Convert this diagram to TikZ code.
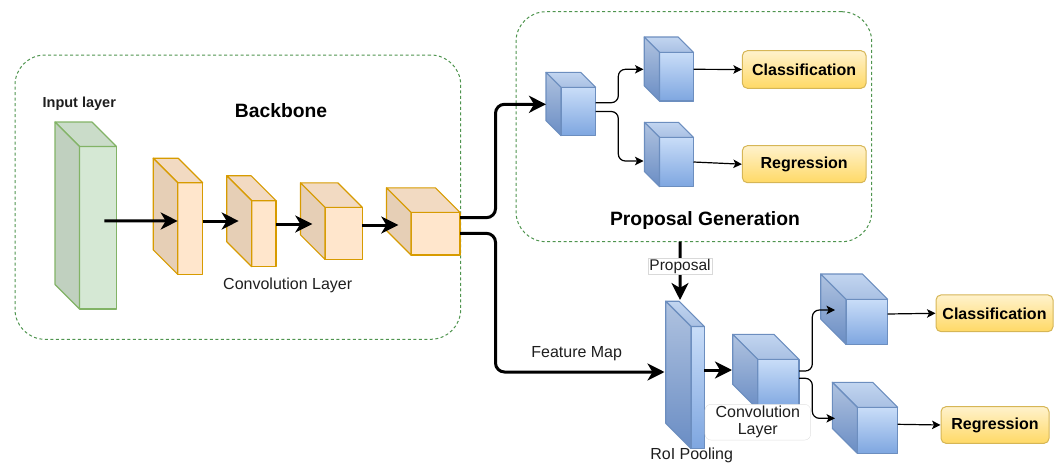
\documentclass[tikz,border=0pt]{standalone}
\usepackage{fontspec}
\setmainfont{Liberation Sans}
\usetikzlibrary{arrows.meta,calc}

\definecolor{gstroke}{HTML}{82B366}
\definecolor{gfront}{HTML}{D5E8D4}
\definecolor{gtopc}{HTML}{CADCC9}
\definecolor{gleftc}{HTML}{C0D0BF}
\definecolor{ostroke}{HTML}{D79B00}
\definecolor{ofront}{HTML}{FFE6CC}
\definecolor{otopc}{HTML}{F2DAC2}
\definecolor{oleftc}{HTML}{E6CFB6}
\definecolor{bstroke}{HTML}{6C8EBF}
\definecolor{bfronttop}{HTML}{C9DDF8}
\definecolor{bfrontbot}{HTML}{7EA6E0}
\definecolor{blefttop}{HTML}{B0C3E0}
\definecolor{bleftbot}{HTML}{6A8DC4}
\definecolor{btoptop}{HTML}{C2D5F0}
\definecolor{btopbot}{HTML}{A9C0E3}
\definecolor{ystroke}{HTML}{D6B656}
\definecolor{ytop}{HTML}{FFF2CC}
\definecolor{ybot}{HTML}{FFD966}
\definecolor{groupline}{HTML}{4E944E}
\definecolor{labelgray}{HTML}{1E1E1E}

% cube: name, x, y (front face top-left), width, height, depth, colour kind
\newcommand{\drawcube}[7]{%
  \node[#7front, anchor=north west, minimum width=#4pt, minimum height=#5pt] (#1) at (#2,#3) {};
  \path[#7top] (#1.north west) -- ++(-#6,-#6) -- ([shift={(-#6,-#6)}]#1.north east) -- (#1.north east) -- cycle;
  \path[#7left] (#1.north west) -- ++(-#6,-#6) -- ([shift={(-#6,-#6)}]#1.south west) -- (#1.south west) -- cycle;
}

\tikzset{
  face/.style={line width=1.1pt, line join=round},
  cubebase/.style={face, outer sep=0pt, inner sep=0pt},
  greenfront/.style={cubebase, draw=gstroke, fill=gfront},
  greentop/.style={face, draw=gstroke, fill=gtopc},
  greenleft/.style={face, draw=gstroke, fill=gleftc},
  orangefront/.style={cubebase, draw=ostroke, fill=ofront},
  orangetop/.style={face, draw=ostroke, fill=otopc},
  orangeleft/.style={face, draw=ostroke, fill=oleftc},
  bluefront/.style={cubebase, draw=bstroke, top color=bfronttop, bottom color=bfrontbot},
  bluetop/.style={face, draw=bstroke, top color=btoptop, bottom color=btopbot},
  blueleft/.style={face, draw=bstroke, top color=blefttop, bottom color=bleftbot},
  group/.style={draw=groupline, line width=1pt, dash pattern=on 3pt off 2.5pt, rounded corners=30pt,
    anchor=north west, inner sep=0pt, outer sep=0pt},
  outbox/.style={draw=ystroke, line width=1pt, top color=ytop, bottom color=ybot, rounded corners=5pt,
    font=\fontsize{16}{19}\selectfont\bfseries, inner sep=0pt},
  bigarrow/.style={line width=3pt, -{Stealth[length=17pt,width=17pt,inset=5pt]}},
  smallarrow/.style={line width=1.2pt, -{Stealth[length=8.5pt,width=8.5pt,inset=2pt]}},
  title/.style={font=\fontsize{19.3}{22}\selectfont\bfseries},
  caption/.style={font=\fontsize{16}{19}\selectfont, text=labelgray},
}

\begin{document}
\begin{tikzpicture}[x=1pt,y=-1pt]
\useasboundingbox (0,0) rectangle (1055,463);

% group frames
\node[group, minimum width=445.7pt, minimum height=284.3pt] (bbbox) at (15,55) {};
\node[group, minimum width=355.7pt, minimum height=230pt] (pgbox) at (516,11.7) {};

% backbone
\drawcube{in}{79.5}{146.5}{37}{162.5}{24.5}{green}
\drawcube{c1}{177.7}{182.7}{25}{91.6}{24.5}{orange}
\drawcube{c2}{251.7}{200.7}{24.3}{66}{25}{orange}
\drawcube{c3}{325}{207.3}{37.3}{52}{24.5}{orange}
\drawcube{c4}{411}{212.3}{49}{42.7}{24.5}{orange}

\node[font=\fontsize{14.5}{17}\selectfont\bfseries, text=labelgray] (inlab) at (79.3,104) {Input layer};
\node[title] (bbtitle) at (281,111) {Backbone};
\node[caption] (convlab) at (287.7,285) {Convolution Layer};

\draw[bigarrow] ([shift={(6.3,-6.8)}]in.center) -- ([shift={(0,-7.5)}]c1.west);
\draw[bigarrow] ([shift={(0,-7.5)}]c1.east) -- ([shift={(-13,-12.7)}]c2.west);
\draw[bigarrow] ([shift={(0,-9.7)}]c2.east) -- ([shift={(-12.7,-9.3)}]c3.west);
\draw[bigarrow] ([shift={(0,-8.3)}]c3.east) -- ([shift={(-12.7,-8.65)}]c4.west);

% proposal generation
\drawcube{p0}{561}{87.3}{34.7}{48.4}{15}{blue}
\drawcube{p1}{659.5}{52.3}{34}{48.7}{15.3}{blue}
\drawcube{p2}{659.5}{137.3}{34}{49.4}{15}{blue}
\node[outbox, minimum width=123.7pt, minimum height=37.6pt] (cls1) at (804.2,69.5) {Classification};
\node[outbox, minimum width=123.7pt, minimum height=37pt] (reg1) at (804.2,164.2) {Regression};
\node[title] (pgtitle) at (705,220.7) {Proposal Generation};

\draw[smallarrow, rounded corners=7pt] ([shift={(0,-8.8)}]p0.east) -- ++(22.6,0) |- ([shift={(-16,-7.35)}]p1.west);
\draw[smallarrow, rounded corners=7pt] (p0.east) -- ++(22.6,0) |- ([shift={(-16,-1)}]p2.west);
\draw[smallarrow] ([shift={(0,-7.35)}]p1.east) -- (cls1.west);
\draw[smallarrow] (p2.east) -- (reg1.west);

% detection head
\drawcube{roi}{691}{326.5}{13.3}{122}{25.3}{blue}
\drawcube{cc}{757.7}{359.3}{41.3}{50}{25}{blue}
\drawcube{q1}{846}{299.3}{41.7}{45}{25.3}{blue}
\drawcube{q2}{857.3}{407.3}{40.4}{46}{25}{blue}
\node[outbox, minimum width=117pt, minimum height=36.7pt] (cls2) at (994.5,313.3) {Classification};
\node[outbox, minimum width=108pt, minimum height=36.7pt] (reg2) at (995,425) {Regression};

\node[caption, draw=black!12, fill=white, rounded corners=6pt, align=center,
      minimum width=105.7pt, minimum height=35.7pt, inner sep=0pt,
      font=\fontsize{16}{16.7}\selectfont] (cclab) at (757.8,422.2) {Convolution\\Layer};
\node[caption] (roilab) at (691.7,455) {RoI Pooling};

\draw[bigarrow] ([shift={(0,-17.5)}]roi.east) -- ([shift={(-25.7,-14.3)}]cc.west);
\draw[smallarrow, rounded corners=7pt] ([shift={(0,-13.3)}]cc.east) -- ++(13.3,0) |- ([shift={(-11,-11.8)}]q1.west);
\draw[smallarrow, rounded corners=7pt] ([shift={(0,-6)}]cc.east) -- ++(13.3,0) |- ([shift={(-22.3,-12)}]q2.west);
\draw[smallarrow] ([shift={(0,-7.8)}]q1.east) -- (cls2.west);
\draw[smallarrow] ([shift={(0,-6)}]q2.east) -- (reg2.west);

% backbone outputs
\draw[bigarrow, rounded corners=9pt] ([shift={(0,-16)}]c4.east) -- ++(35.5,0) |- ([shift={(-15,-7.2)}]p0.west);
\draw[bigarrow, rounded corners=9pt] ([shift={(0,-0.3)}]c4.east) -- ++(35.5,0) |- ([shift={(-26.5,-15.5)}]roi.west);
\node[caption] (fmlab) at (576.7,353.3) {Feature Map};

% proposals into RoI pooling
\draw[bigarrow] ([shift={(-13.85,0)}]pgbox.south) -- ([shift={(-17.65,-26.5)}]roi.north)
  node[pos=0.42, draw=black!15, line width=0.6pt, fill=white, inner xsep=1.5pt, inner ysep=1pt,
       font=\fontsize{15.5}{17}\selectfont, text=labelgray] (proplab) {Proposal};
\end{tikzpicture}
\end{document}
